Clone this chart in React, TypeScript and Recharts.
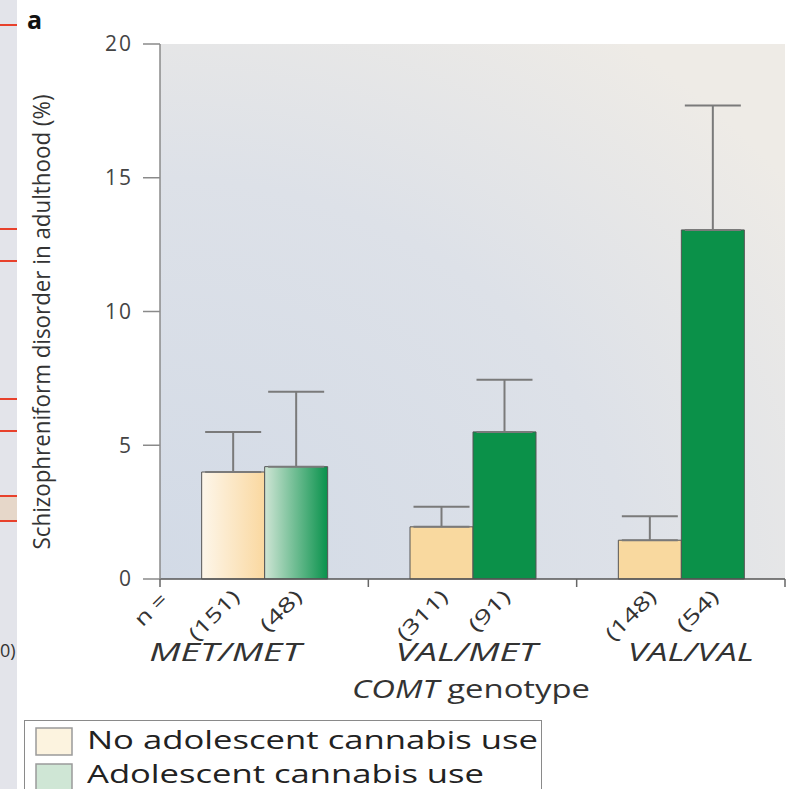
import React from 'react';
import { BarChart, Bar, Cell, XAxis, YAxis, CartesianGrid, ErrorBar, Legend } from 'recharts';

const categories = ['MET/MET', 'VAL/MET', 'VAL/VAL'];
const noUse = [4.0, 1.95, 1.45];
const noUseErr = [1.5, 0.75, 0.9];
const use = [4.2, 5.5, 13.05];
const useErr = [2.8, 1.95, 4.65];
const nNoUse = [151, 311, 148];
const nUse = [48, 91, 54];
const yTicks = [0, 5, 10, 15, 20];
const legendLabels = ['No adolescent cannabis use', 'Adolescent cannabis use'];

const data = categories.map((c, i) => ({
  name: c,
  noUse: noUse[i],
  noUseErr: [0, noUseErr[i]],
  use: use[i],
  useErr: [0, useErr[i]],
  nNo: nNoUse[i],
  nUse: nUse[i],
}));

const W = 802;
const H = 789;
const M = { top: 44, right: 17, left: 0, bottom: 60 };
const Y_W = 160;
const BAND = (W - M.right - Y_W) / categories.length;
const FONT = '"Open Sans", sans-serif';
const NAME_DX = [-39, -6, 10];
const NAME_LEN = [152, 142, 126];

// rotated n label, anchored at its baseline end
const NLabel = ({ x, y, text }: { x: number; y: number; text: string }) => (
  <text
    x={x}
    y={y}
    transform={`rotate(-45 ${x} ${y})`}
    textAnchor="end"
    fontSize={20}
    fill="#333"
    fontFamily={FONT}
    textLength={text.length * 12.5}
    lengthAdjust="spacingAndGlyphs"
  >
    {text}
  </text>
);

const XTick = (props: any) => {
  const { x, y, payload, index } = props;
  const c = data[index];
  const left = x - BAND / 2;
  const half = BAND * 0.3;
  return (
    <g>
      <line x1={left} y1={y} x2={left} y2={y + 8} stroke="#666" strokeWidth={1.5} />
      {index === categories.length - 1 && (
        <line x1={x + BAND / 2} y1={y} x2={x + BAND / 2} y2={y + 8} stroke="#666" strokeWidth={1.5} />
      )}
      {index === 0 && <NLabel x={left + 9} y={y + 22} text="n =" />}
      <NLabel x={x - half / 2 + 8} y={y + 19} text={`(${c.nNo})`} />
      <NLabel x={x + half / 2 + 8} y={y + 19} text={`(${c.nUse})`} />
      <text
        x={x + NAME_DX[index]}
        y={y + 82}
        textAnchor="middle"
        fontSize={26}
        fontStyle="italic"
        fill="#333"
        fontFamily={FONT}
        textLength={NAME_LEN[index]}
        lengthAdjust="spacingAndGlyphs"
      >
        {payload.value}
      </text>
    </g>
  );
};

const LegendBox = () => (
  <div style={{ width: 518, height: 80, border: '1px solid #8a8a8a', background: '#fff', boxSizing: 'border-box' }}>
    <svg width={516} height={78}>
      <rect x={11} y={7} width={36} height={27} fill="#fcf3df" stroke="#9a9a9a" strokeWidth={1.5} />
      <rect x={11} y={43} width={36} height={27} fill="#cfe6d5" stroke="#9a9a9a" strokeWidth={1.5} />
      <text x={62} y={28} fontSize={26} fill="#222" fontFamily={FONT} textLength={451} lengthAdjust="spacingAndGlyphs">
        {legendLabels[0]}
      </text>
      <text x={62} y={62} fontSize={26} fill="#222" fontFamily={FONT} textLength={397} lengthAdjust="spacingAndGlyphs">
        {legendLabels[1]}
      </text>
    </svg>
  </div>
);

export default function App() {
  return (
    <div style={{ position: 'absolute', left: 0, top: 0, width: W, height: H, background: '#fff', overflow: 'hidden' }}>
      <div style={{ position: 'absolute', left: 0, top: 0, width: 17, height: H, background: '#e3e4ea' }} />
      {[24, 228, 260, 398, 430, 495, 520].map((t) => (
        <div key={t} style={{ position: 'absolute', left: 0, top: t, width: 17, height: 2, background: '#e8412c' }} />
      ))}
      <div style={{ position: 'absolute', left: 0, top: 497, width: 17, height: 23, background: '#e6d7c9' }} />
      <div style={{ position: 'absolute', left: 0, top: 638, fontSize: 18, fontFamily: FONT, color: '#333' }}>0)</div>
      <div style={{ position: 'absolute', left: 27, top: 2, fontSize: 25, fontWeight: 'bold', fontFamily: FONT, color: '#111' }}>a</div>
      <BarChart width={W} height={H} data={data} margin={M} barGap={0} barCategoryGap="20%">
        <defs>
          <radialGradient id="bg" cx="0" cy="1" r="1.25">
            <stop offset="0" stopColor="#d2dae6" />
            <stop offset="0.6" stopColor="#dde1e8" />
            <stop offset="1" stopColor="#eeebe6" />
          </radialGradient>
          <linearGradient id="gNo" x1="0" y1="0" x2="1" y2="0">
            <stop offset="0" stopColor="#fdf6ea" />
            <stop offset="1" stopColor="#fad8a0" />
          </linearGradient>
          <linearGradient id="gUse" x1="0" y1="0" x2="1" y2="0">
            <stop offset="0" stopColor="#cfe5d5" />
            <stop offset="1" stopColor="#09924c" />
          </linearGradient>
        </defs>
        <CartesianGrid fill="url(#bg)" stroke="none" horizontal={false} vertical={false} />
        <XAxis
          dataKey="name"
          height={150}
          tickSize={0}
          tickMargin={0}
          tick={<XTick />}
          axisLine={{ stroke: '#555', strokeWidth: 1.5 }}
          interval={0}
          label={{
            content: () => (
              <text x={471} y={698} textAnchor="middle" fontSize={25} fill="#333" fontFamily={FONT} textLength={238} lengthAdjust="spacingAndGlyphs">
                <tspan fontStyle="italic">COMT</tspan> genotype
              </text>
            ),
          }}
        />
        <YAxis
          width={Y_W}
          domain={[0, 20]}
          ticks={yTicks}
          tickSize={17}
          tickMargin={10}
          axisLine={{ stroke: '#8a8a8a', strokeWidth: 1.5 }}
          tickLine={{ stroke: '#8a8a8a', strokeWidth: 1.5 }}
          tick={{ fontSize: 21, fill: '#444', fontFamily: FONT, letterSpacing: 2 }}
          label={{
            content: () => (
              <text x={50} y={322} transform="rotate(-90 50 322)" textAnchor="middle" fontSize={24} fill="#333" fontFamily={FONT} textLength={455} lengthAdjust="spacingAndGlyphs">
                Schizophreniform disorder in adulthood (%)
              </text>
            ),
          }}
        />
        <Legend layout="vertical" align="center" verticalAlign="middle" wrapperStyle={{ left: 24, top: 720, width: 518 }} content={<LegendBox />} />
        <Bar dataKey="noUse" stroke="#555" strokeWidth={1} isAnimationActive={false}>
          {data.map((d, i) => (
            <Cell key={d.name} fill={i === 0 ? 'url(#gNo)' : '#f9d99f'} />
          ))}
          <ErrorBar dataKey="noUseErr" width={28} stroke="#7a7a7a" strokeWidth={2} direction="y" />
        </Bar>
        <Bar dataKey="use" stroke="#555" strokeWidth={1} isAnimationActive={false}>
          {data.map((d, i) => (
            <Cell key={d.name} fill={i === 0 ? 'url(#gUse)' : '#0b9149'} />
          ))}
          <ErrorBar dataKey="useErr" width={28} stroke="#7a7a7a" strokeWidth={2} direction="y" />
        </Bar>
      </BarChart>
    </div>
  );
}
